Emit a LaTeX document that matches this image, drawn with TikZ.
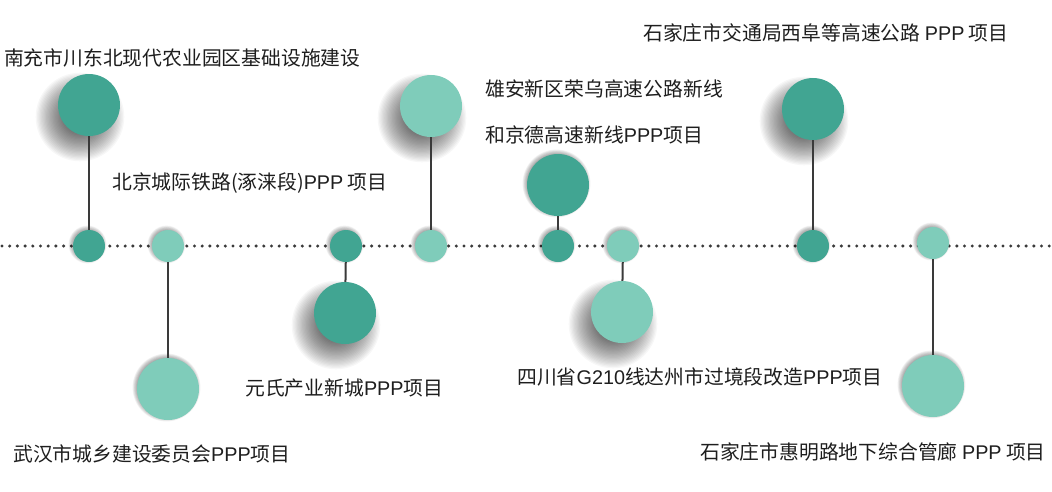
\documentclass[tikz,border=0pt]{standalone}
\usepackage{fontspec}
\setmainfont{Noto Sans CJK SC}
\newfontfamily\latinf{Liberation Sans}
\newcommand{\lt}[1]{{\latinf #1}}
\usetikzlibrary{calc}
\definecolor{tdark}{HTML}{41A592}
\definecolor{tlight}{HTML}{7FCCBA}
\definecolor{tline}{HTML}{3A3A3A}
\definecolor{ttext}{HTML}{1E1E1E}
\tikzset{
  bigdot/.style={circle,minimum size=62pt,inner sep=0pt},
  smalldot/.style={circle,minimum size=32pt,inner sep=0pt},
  conn/.style={draw=tline,line width=2pt},
  timeline/.style={draw=tline,line width=3.4pt,line cap=round,dash pattern=on 0pt off 7.7pt},
  lbl/.style={anchor=west,inner sep=0pt,text=ttext,font=\fontsize{19.8}{22}\selectfont},
  shadowlayer/.style={fill=black,fill opacity=#1,draw=none}
}
\newcommand{\heavyshadow}[1]{%
  \foreach \k in {0,...,21}{\fill[shadowlayer=0.033] ($(#1)+(-9,12)$) circle ({17+1.3*\k});}}
\newcommand{\lightshadow}[2]{%
  \foreach \k in {0,...,7}{\fill[shadowlayer=0.05] ($(#1)+(-1.5,-1.5)$) circle ({#2-2+0.7*\k});}}
\begin{document}
\begin{tikzpicture}[x=1pt,y=-1pt]
\useasboundingbox (0,0) rectangle (1052,491);
\fill[white] (0,0) rectangle (1052,491);
% positions
\coordinate (p1) at (89,246);
\coordinate (p2) at (168,246);
\coordinate (p3) at (346,246);
\coordinate (p4) at (431,246);
\coordinate (p5) at (558,246);
\coordinate (p6) at (623,246);
\coordinate (p7) at (813,246);
\coordinate (p8) at (933,243);
\coordinate (q1) at (89,105);
\coordinate (q2) at (168,389);
\coordinate (q3) at (345,313);
\coordinate (q4) at (431,106);
\coordinate (q5) at (558,185);
\coordinate (q6) at (622,312);
\coordinate (q7) at (813,109);
\coordinate (q8) at (933,386);
% shadows
\heavyshadow{q1}\heavyshadow{q3}\heavyshadow{q4}\heavyshadow{q6}\heavyshadow{q7}
\lightshadow{q2}{31}\lightshadow{q5}{31}\lightshadow{q8}{31}
% timeline
\coordinate (tl0) at (2,246);
\coordinate (tl1) at (1052,246);
\draw[timeline] (tl0) -- (tl1);
\foreach \i in {1,...,8}{\lightshadow{p\i}{16}}
% small circles
\node[smalldot,fill=tdark]  (s1) at (p1) {};
\node[smalldot,fill=tlight] (s2) at (p2) {};
\node[smalldot,fill=tdark]  (s3) at (p3) {};
\node[smalldot,fill=tlight] (s4) at (p4) {};
\node[smalldot,fill=tdark]  (s5) at (p5) {};
\node[smalldot,fill=tlight] (s6) at (p6) {};
\node[smalldot,fill=tdark]  (s7) at (p7) {};
\node[smalldot,fill=tlight] (s8) at (p8) {};
% big circles
\node[bigdot,fill=tdark]  (b1) at (q1) {};
\node[bigdot,fill=tlight] (b2) at (q2) {};
\node[bigdot,fill=tdark]  (b3) at (q3) {};
\node[bigdot,fill=tlight] (b4) at (q4) {};
\node[bigdot,fill=tdark]  (b5) at (q5) {};
\node[bigdot,fill=tlight] (b6) at (q6) {};
\node[bigdot,fill=tdark]  (b7) at (q7) {};
\node[bigdot,fill=tlight] (b8) at (q8) {};
% connectors
\draw[conn] (b1) -- (s1);
\draw[conn] (b2) -- (s2);
\draw[conn] (b3) -- (s3);
\draw[conn] (b4) -- (s4);
\draw[conn] (b5) -- (s5);
\draw[conn] (b6) -- (s6);
\draw[conn] (b7) -- (s7);
\draw[conn] (b8) -- (s8);
% labels
\node[lbl] (t1) at (4,58) {南充市川东北现代农业园区基础设施建设};
\node[lbl] (t2) at (112,183) {北京城际铁路(涿涞段)\lt{PPP} 项目};
\node[lbl] (t3) at (13,454) {武汉市城乡建设委员会\lt{PPP}项目};
\node[lbl] (t4) at (245,388) {元氏产业新城\lt{PPP}项目};
\node[lbl] (t5) at (485,89) {雄安新区荣乌高速公路新线};
\node[lbl] (t6) at (485,135) {和京德高速新线\lt{PPP}项目};
\node[lbl] (t7) at (517,377) {四川省\lt{G210}线达州市过境段改造\lt{PPP}项目};
\node[lbl] (t8) at (643,33) {石家庄市交通局西阜等高速公路 \lt{PPP} 项目};
\node[lbl] (t9) at (700,452) {石家庄市惠明路地下综合管廊 \lt{PPP} 项目};
\end{tikzpicture}
\end{document}
